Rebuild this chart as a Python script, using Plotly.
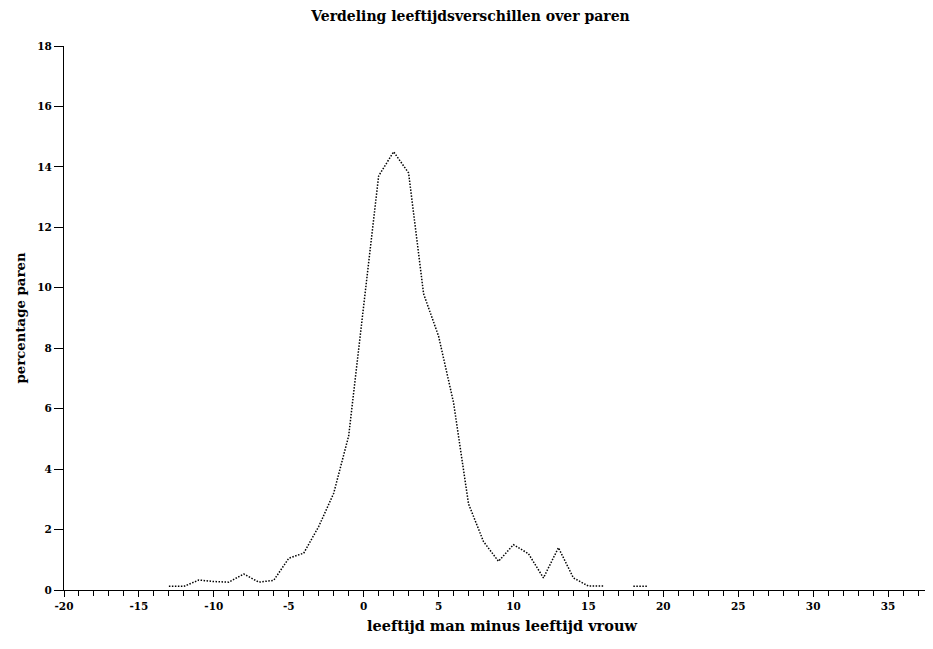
import plotly.graph_objects as go

# age difference (man minus woman), years
age_diff_main = [-13, -12, -11, -10, -9, -8, -7, -6, -5, -4, -3, -2, -1, 0, 1, 2, 3,
                 4, 5, 6, 7, 8, 9, 10, 11, 12, 13, 14, 15, 16]
pct_main = [0.12, 0.12, 0.33, 0.28, 0.26, 0.53, 0.26, 0.32, 1.05, 1.22, 2.1, 3.2, 5.1,
            9.5, 13.7, 14.5, 13.8, 9.8, 8.4, 6.2, 2.85, 1.6, 0.95, 1.5, 1.2, 0.4,
            1.4, 0.4, 0.13, 0.13]
age_diff_tail = [18, 19]
pct_tail = [0.12, 0.12]

x_tickvals = [-20, -15, -10, -5, 0, 5, 10, 15, 20, 25, 30, 35]
x_ticktext = ["-20", "-15", "-10", "-5", "0", "5", "10", "15", "20", "25", "30", "35"]

title_text = "Verdeling leeftijdsverschillen over paren"
x_title = "leeftijd man minus leeftijd vrouw"
y_title = "percentage paren"

font_family = "DejaVu Serif"

fig = go.Figure()
x_all = age_diff_main + [None] + age_diff_tail
y_all = pct_main + [None] + pct_tail
fig.add_trace(go.Scatter(
    x=x_all, y=y_all, mode="lines", connectgaps=False,
    line=dict(color="black", width=1.5, dash="1.5px,1.5px"),
    showlegend=False, hoverinfo="x+y"))

fig.update_layout(
    width=925, height=641,
    paper_bgcolor="white", plot_bgcolor="white",
    margin=dict(l=56, r=0, t=38, b=59, autoexpand=False),
    title=dict(text=title_text, x=0.5, xref="container", xanchor="center",
               y=0.9875, yref="container", yanchor="middle",
               font=dict(family=font_family, size=14, color="black", weight="bold")),
    font=dict(family=font_family, color="black"),
    annotations=[dict(text=x_title, xref="paper", yref="paper", x=0.504, y=-0.066,
                      xanchor="center", yanchor="middle", showarrow=False,
                      font=dict(family=font_family, size=14.5, color="black", weight="bold"))],
)
fig.update_xaxes(
    range=[-20, 38], tickmode="array", tickvals=x_tickvals, ticktext=x_ticktext,
    automargin=False,
    showgrid=False, zeroline=False, showline=True, linecolor="black", linewidth=1,
    ticks="outside", ticklen=6, tickcolor="black", tickwidth=1,
    minor=dict(dtick=1, tick0=-20, ticks="outside", ticklen=5, tickcolor="black", showgrid=False),
    tickfont=dict(family=font_family, size=10.5, color="black", weight="bold"),
)
fig.update_yaxes(
    range=[0, 18], tickmode="linear", tick0=0, dtick=2,
    automargin=False,
    showgrid=False, zeroline=False, showline=True, linecolor="black", linewidth=1,
    ticks="outside", ticklen=9, tickcolor="black", tickwidth=1,
    tickfont=dict(family=font_family, size=10.5, color="black", weight="bold"),
    title=dict(text=y_title, standoff=8,
               font=dict(family=font_family, size=13.3, color="black", weight="bold")),
)

fig.write_html("out.html")
